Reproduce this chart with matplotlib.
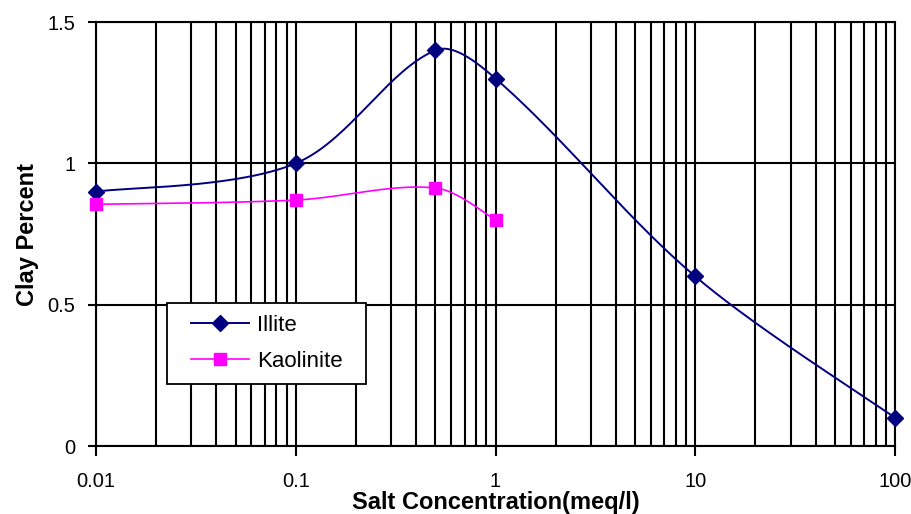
import numpy as np
import matplotlib
matplotlib.use("Agg")
import matplotlib.pyplot as plt
from matplotlib.patches import Rectangle

plt.rcParams['font.family'] = ['Liberation Sans', 'DejaVu Sans']

# values
illite_x = [0.01, 0.1, 0.5, 1, 10, 100]
illite_y = [0.90, 1.00, 1.40, 1.30, 0.60, 0.10]
kaolinite_x = [0.01, 0.1, 0.5, 1]
kaolinite_y = [0.855, 0.87, 0.913, 0.80]
y_ticks = [0, 0.5, 1, 1.5]
x_ticks = [0.01, 0.1, 1, 10, 100]
x_tick_labels = ['0.01', '0.1', '1', '10', '100']

# screen scale of the plot area (px per decade, px per unit) for the smoothing
SX, SY = 200.0, 424.0 / 1.5


def excel_smooth(xs, ys, n=60):
    """Bezier smoothing in screen space, arms weighted by segment length."""
    px = np.log10(np.asarray(xs, float)) * SX
    py = np.asarray(ys, float) * SY
    pts = np.column_stack([px, py])
    m = len(pts)
    d = np.hypot(*np.diff(pts, axis=0).T)
    out = []
    t = np.linspace(0, 1, n)[:, None]
    for i in range(m - 1):
        p0 = pts[i]
        p3 = pts[i + 1]
        if i > 0:
            c1 = p0 + (p3 - pts[i - 1]) * d[i] / (d[i - 1] + d[i]) / 3.0
        else:
            c1 = p0 + (p3 - p0) / 6.0
        if i + 2 < m:
            c2 = p3 - (pts[i + 2] - p0) * d[i] / (d[i] + d[i + 1]) / 3.0
        else:
            c2 = p3 - (p3 - p0) / 6.0
        seg = ((1 - t) ** 3) * p0 + 3 * ((1 - t) ** 2) * t * c1 \
            + 3 * (1 - t) * t ** 2 * c2 + t ** 3 * p3
        out.append(seg if i == 0 else seg[1:])
    curve = np.vstack(out)
    return 10 ** (curve[:, 0] / SX), curve[:, 1] / SY


fig = plt.figure(figsize=(9.11, 5.14), dpi=100)
ax = fig.add_axes([96 / 911, 1 - 446 / 514, (895 - 96) / 911, (446 - 22) / 514])

ax.set_xscale('log')
ax.set_xlim(0.01, 100)
ax.set_ylim(0, 1.5)

# grid: every decade line and minor line, horizontal at majors
ax.grid(True, which='both', axis='x', color='black', linewidth=1.5)
ax.grid(True, which='major', axis='y', color='black', linewidth=1.5)
ax.set_axisbelow(True)
for s in ax.spines.values():
    s.set_color('black')
    s.set_linewidth(1.5)

ix, iy = excel_smooth(illite_x, illite_y)
kx, ky = excel_smooth(kaolinite_x, kaolinite_y)
ax.plot(ix, iy, color='#000080', linewidth=1.4, zorder=3)
ax.plot(kx, ky, color='#FF00FF', linewidth=1.2, zorder=3)
ax.plot(illite_x, illite_y, linestyle='none', marker='D', markersize=8,
        color='#000080', zorder=4, clip_on=False)
ax.plot(kaolinite_x, kaolinite_y, linestyle='none', marker='s', markersize=8,
        color='#FF00FF', zorder=4, clip_on=False)

ax.set_xticks(x_ticks)
ax.set_xticklabels(x_tick_labels)
ax.set_yticks(y_ticks)
ax.set_yticklabels(['0', '0.5', '1', '1.5'])
ax.tick_params(axis='x', which='major', direction='out', length=7, width=1.5,
               labelsize=14.5, pad=12, color='black')
ax.tick_params(axis='x', which='minor', length=0)
ax.tick_params(axis='y', direction='out', length=6, width=1.5,
               labelsize=14.5, pad=9)

ax.set_xlabel('Salt Concentration(meq/l)', fontsize=17, fontweight='bold', labelpad=0)
ax.set_ylabel('Clay Percent', fontsize=17, fontweight='bold', labelpad=6)

# legend box drawn by hand, entries in a frameless legend
box = Rectangle((167 / 911, 1 - 384 / 514), 199 / 911, 81 / 514,
                transform=fig.transFigure, facecolor='white',
                edgecolor='black', linewidth=1.3, zorder=5)
fig.add_artist(box)
h1, = ax.plot([], [], color='#000080', linewidth=1.4, marker='D', markersize=8)
h2, = ax.plot([], [], color='#FF00FF', linewidth=1.2, marker='s', markersize=8)
leg = fig.legend([h1, h2], ['Illite', 'Kaolinite'], loc='center',
                 bbox_to_anchor=(267 / 911, 1 - 343.5 / 514), frameon=False,
                 fontsize=16, handlelength=2.6, handletextpad=0.35,
                 labelspacing=0.7, borderpad=0)
leg.set_zorder(6)

fig.savefig('out.png', dpi=100)
